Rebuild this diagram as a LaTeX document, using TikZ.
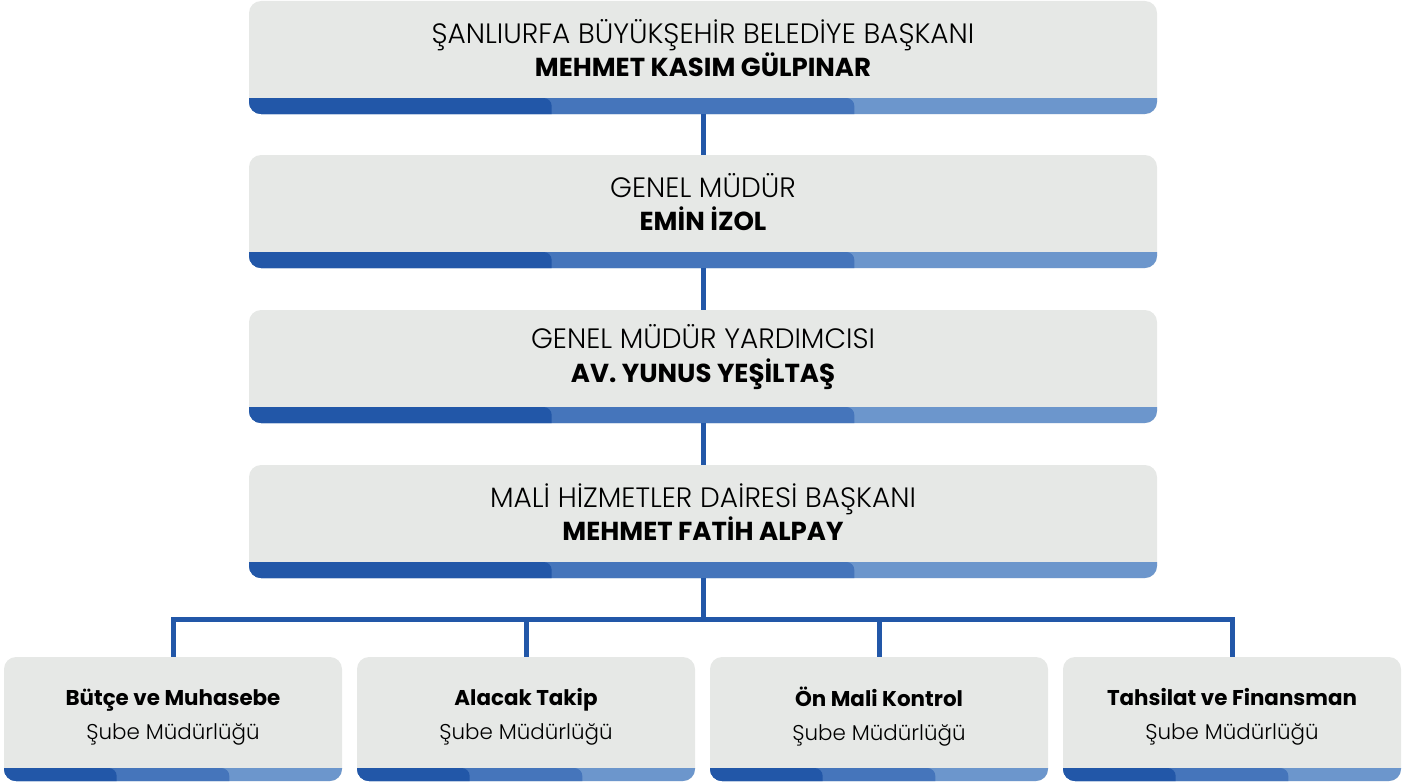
\documentclass[tikz,border=0pt]{standalone}
\usepackage{fontspec}
\setmainfont{Poppins}
\newfontfamily\lightfont{Poppins Light}
\usetikzlibrary{calc}
\definecolor{boxgray}{HTML}{E6E8E6}
\definecolor{bdark}{HTML}{2257A8}
\definecolor{bmid}{HTML}{4575BB}
\definecolor{blight}{HTML}{6C96CC}
\tikzset{
  barfill/.style={
    path picture={
      \coordinate (sw) at (path picture bounding box.south west);
      \coordinate (se) at (path picture bounding box.south east);
      \fill[blight] ($(sw)+(-20pt,-20pt)$) rectangle ($(se)+(20pt,#1)$);
      \fill[bmid, rounded corners=8pt] ($(sw)+(-20pt,-20pt)$) rectangle ($($(sw)!2/3!(se)$)+(0pt,#1)$);
      \fill[bdark, rounded corners=8pt] ($(sw)+(-20pt,-20pt)$) rectangle ($($(sw)!1/3!(se)$)+(0pt,#1)$);
    }
  },
  topbox/.style={draw=none, fill=boxgray, rounded corners=12pt, minimum width=908pt, minimum height=113pt, inner sep=0pt, barfill=16pt},
  subbox/.style={draw=none, fill=boxgray, rounded corners=12pt, minimum width=338pt, minimum height=124pt, inner sep=0pt, barfill=13pt},
  toptxt/.style={align=center, inner sep=0pt, font=\fontsize{26}{33.5}\selectfont},
  subtxt/.style={align=center, inner sep=0pt, font=\fontsize{21.4}{34}\selectfont},
  conn/.style={draw=bdark, line width=5pt, line join=miter},
}
\newcommand{\lt}[1]{{\lightfont\fontsize{28}{34}\selectfont #1}}
\begin{document}
\begin{tikzpicture}[x=1pt, y=-1pt]
\useasboundingbox (0,0) rectangle (1416,784);
\coordinate (hub) at (703,619);
\node[topbox] (b1) at (703,57.5) {};
\node[topbox] (b2) at (703,211.5) {};
\node[topbox] (b3) at (703,366.5) {};
\node[topbox] (b4) at (703,521.5) {};
\node[subbox] (c1) at (173,719) {};
\node[subbox] (c2) at (526,719) {};
\node[subbox] (c3) at (879,719) {};
\node[subbox] (c4) at (1232,719) {};
\draw[conn] (b1.south) -- (b2.north);
\draw[conn] (b2.south) -- (b3.north);
\draw[conn] (b3.south) -- (b4.north);
\draw[conn] (b4.south) -- (hub);
\draw[conn] (c1.north) -- (c1.north |- hub) -- (c4.north |- hub) -- (c4.north);
\draw[conn] (c2.north |- hub) -- (c2.north);
\draw[conn] (c3.north |- hub) -- (c3.north);
% texts
\node[toptxt] (t1) at ([yshift=9.5pt]b1.center) {\lt{ŞANLIURFA BÜYÜKŞEHİR BELEDİYE BAŞKANI}\\\textbf{MEHMET KASIM GÜLPINAR}};
\node[toptxt] (t2) at ([yshift=9.5pt]b2.center) {\lt{GENEL MÜDÜR}\\\textbf{EMİN İZOL}};
\node[toptxt] (t3) at ([yshift=9.5pt]b3.center) {\lt{GENEL MÜDÜR YARDIMCISI}\\\textbf{AV. YUNUS YEŞİLTAŞ}};
\node[toptxt] (t4) at ([yshift=9.5pt]b4.center) {\lt{MALİ HİZMETLER DAİRESİ BAŞKANI}\\\textbf{MEHMET FATİH ALPAY}};
\node[subtxt] (s1) at ([yshift=2pt]c1.center) {\textbf{Bütçe ve Muhasebe}\\{\lightfont Şube Müdürlüğü}};
\node[subtxt] (s2) at ([yshift=2pt]c2.center) {\textbf{Alacak Takip}\\{\lightfont Şube Müdürlüğü}};
\node[subtxt] (s3) at ([yshift=2pt]c3.center) {\textbf{Ön Mali Kontrol}\\{\lightfont Şube Müdürlüğü}};
\node[subtxt] (s4) at ([yshift=2pt]c4.center) {\textbf{Tahsilat ve Finansman}\\{\lightfont Şube Müdürlüğü}};
\end{tikzpicture}
\end{document}
